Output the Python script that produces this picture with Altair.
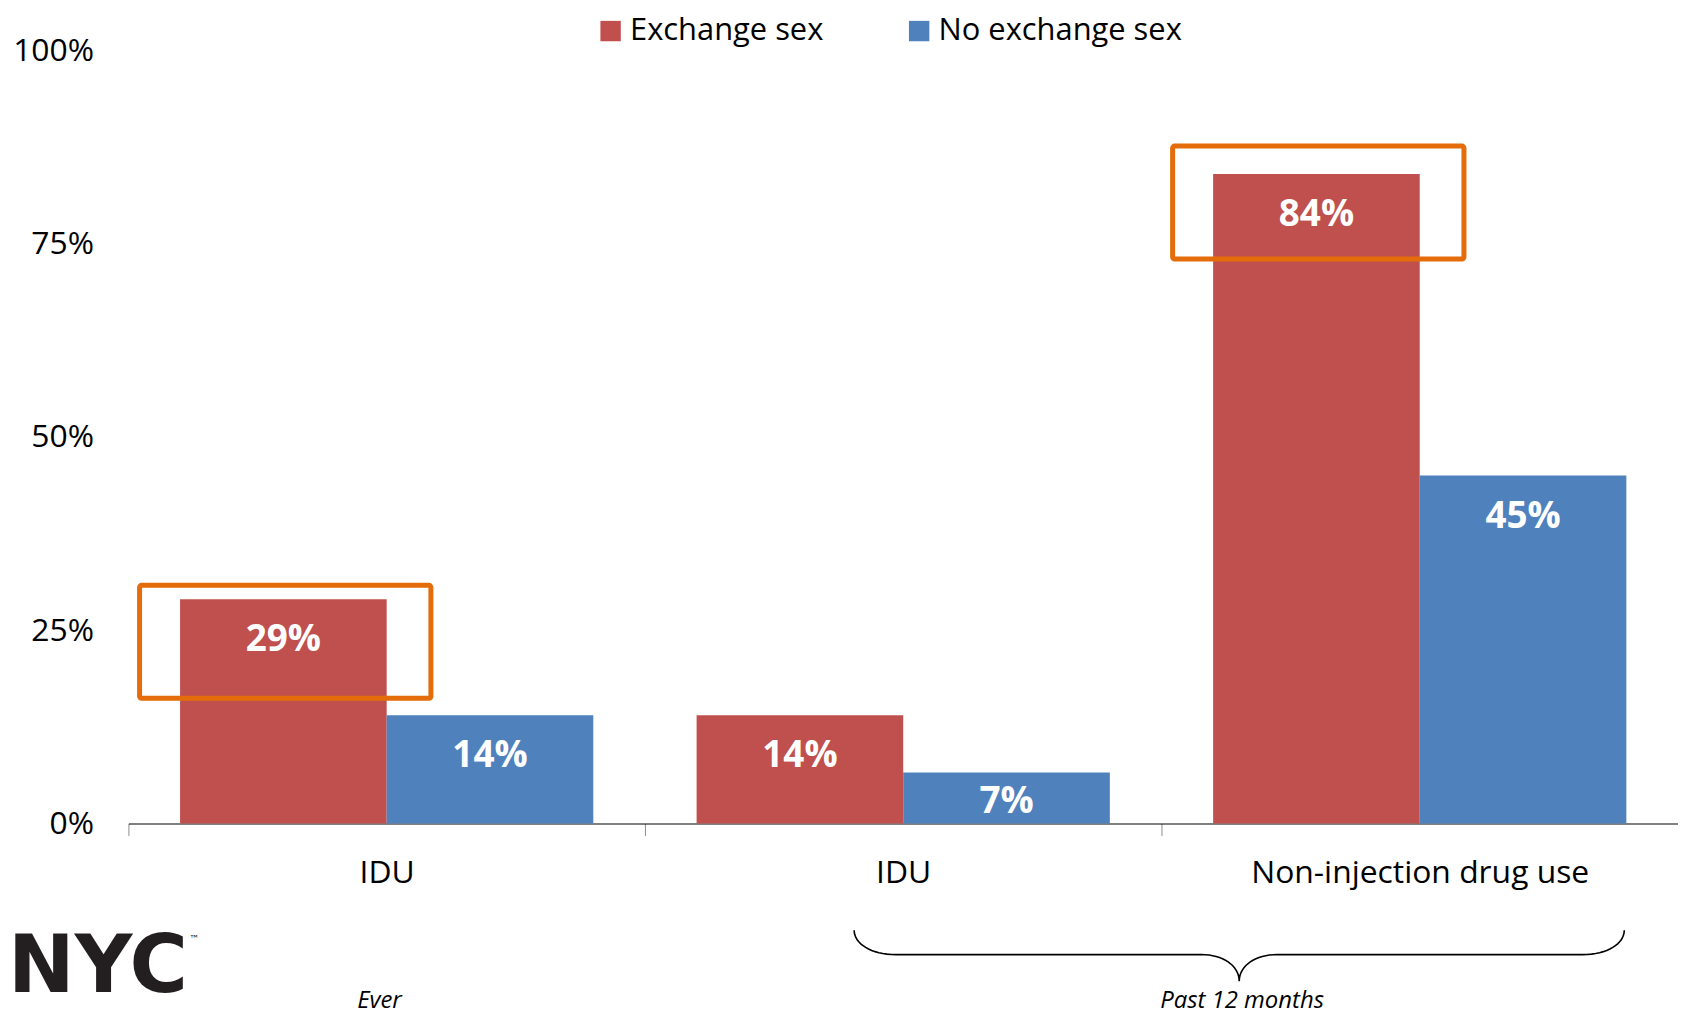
import altair as alt
import pandas as pd

# ---- data ----
categories = ["IDU", "IDU", "Non-injection drug use"]
periods = ["Ever", "Past 12 months", "Past 12 months"]
series_names = ["Exchange sex", "No exchange sex"]
exchange_sex = [29, 14, 84]
no_exchange_sex = [14, 6.6, 45]
highlighted = [True, False, True]
colors = ["#C0504D", "#4F81BD"]
y_ticks = [0, 25, 50, 75, 100]

# annotation positions (category units on x, percent on y)
box_top_pad = [1.8, 3.6]        # above the highlighted bar's value
box_bottom_pad = [12.8, 11.0]   # below the highlighted bar's value
period_labels = ["Ever", "Past 12 months"]
period_label_x = [0.486, 2.156]
period_label_y = [-23.0, -23.0]
brace_span = [1.405, 2.896]
brace_levels = [-13.8, -16.95, -20.4]
brace_round = [0.081, 0.073]
logo_text = ["NYC"]
logo_pos = [-0.233, -24.0]
tm_text = ["™"]
tm_pos = [0.118, -15.0]

# ---- tables ----
keys = [f"{i}|{c}" for i, c in enumerate(categories)]
rows = []
hi_n = 0
for i, k in enumerate(keys):
    for s, vals in zip(series_names, [exchange_sex, no_exchange_sex]):
        hi = bool(highlighted[i]) and s == series_names[0]
        row = {"key": k, "idx": i, "series": s, "value": vals[i], "highlight": hi,
               "tpad": 0.0, "bpad": 0.0}
        if hi:
            row["tpad"] = box_top_pad[hi_n]
            row["bpad"] = box_bottom_pad[hi_n]
            hi_n += 1
        rows.append(row)
df = pd.DataFrame(rows)


def cubic(p0, p1, p2, p3, n=16):
    pts = []
    for j in range(n + 1):
        t = j / n
        a, b, c, d = (1 - t) ** 3, 3 * (1 - t) ** 2 * t, 3 * (1 - t) * t ** 2, t ** 3
        pts.append((a * p0[0] + b * p1[0] + c * p2[0] + d * p3[0],
                    a * p0[1] + b * p1[1] + c * p2[1] + d * p3[1]))
    return pts


x0, x1 = brace_span
xm = (x0 + x1) / 2
yt, yl, yp = brace_levels
re, rm = brace_round
left_pts = cubic((x0, yt), (x0, yt + 0.55 * (yl - yt)), (x0 + 0.4 * re, yl), (x0 + re, yl))
mid_pts = cubic((xm - rm, yl), (xm - 0.45 * rm, yl), (xm, yl + 0.4 * (yp - yl)), (xm, yp))
half = left_pts + mid_pts
full = half + [(2 * xm - px, py) for (px, py) in reversed(half)]
brace_df = pd.DataFrame({"xq": [p[0] for p in full], "yq": [p[1] for p in full],
                         "o": list(range(len(full)))})
period_df = pd.DataFrame({"xq": period_label_x, "yq": period_label_y, "t": period_labels})
logo_df = pd.DataFrame({"xq": [logo_pos[0]], "yq": [logo_pos[1]], "t": logo_text})
tm_df = pd.DataFrame({"xq": [tm_pos[0]], "yq": [tm_pos[1]], "t": tm_text})

# ---- scales / axes ----
y_axis = alt.Axis(values=y_ticks, labelExpr="datum.value + '%'", grid=False, domain=False,
                  ticks=False, tickSize=0, labelFontSize=32, labelColor="#000000",
                  labelPadding=35, title=None)
y_scale = alt.Scale(domain=[0, 100], nice=False, zero=True)

x_band = alt.X("key:N", sort=keys,
               scale=alt.Scale(paddingInner=0, paddingOuter=0),
               axis=alt.Axis(title=None, labelExpr="split(datum.label, '|')[1]",
                             tickBand="extent", domainColor="#000000", domainWidth=1.2,
                             tickColor="#8c8c8c", tickSize=12, tickWidth=1,
                             labelFontSize=32, labelColor="#000000", labelPadding=22,
                             labelAngle=0, labelLimit=800))
x_off = alt.XOffset("series:N", sort=series_names,
                    scale=alt.Scale(paddingInner=0, paddingOuter=0.25))
xq_scale = alt.Scale(domain=[0, 3], nice=False, zero=False)

bars = alt.Chart(df).mark_bar().encode(
    x=x_band,
    xOffset=x_off,
    y=alt.Y("value:Q", scale=y_scale, axis=y_axis),
    color=alt.Color("series:N", sort=series_names,
                    scale=alt.Scale(domain=series_names, range=colors),
                    legend=alt.Legend(orient="none", legendX=469, legendY=-35,
                                      direction="horizontal", symbolType="square",
                                      symbolSize=420, symbolStrokeWidth=0,
                                      symbolOpacity=1, labelFontSize=31,
                                      labelColor="#000000", labelOffset=4,
                                      labelLimit=600, columnPadding=80, title=None)),
)

labels = alt.Chart(df).transform_calculate(
    ly="max(datum.value - 4.8, datum.value / 2)",
    txt="format(datum.value / 100, '.0%')",
).mark_text(color="white", fontWeight="bold", fontSize=37, baseline="middle", dy=4).encode(
    x=x_band,
    xOffset=x_off,
    y=alt.Y("ly:Q", scale=y_scale, axis=y_axis),
    text="txt:N",
)

boxes = alt.Chart(df).transform_filter("datum.highlight").transform_calculate(
    bx0="datum.idx + 0.3036 - 0.282",
    bx1="datum.idx + 0.3036 + 0.282",
    by0="datum.value + datum.tpad",
    by1="datum.value - datum.bpad",
).mark_rect(filled=False, stroke="#E46C0A", strokeWidth=5, cornerRadius=2).encode(
    x=alt.X("bx0:Q", scale=xq_scale, axis=None),
    x2="bx1:Q",
    y=alt.Y("by0:Q", scale=y_scale, axis=y_axis),
    y2="by1:Q",
)

brace = alt.Chart(brace_df).mark_line(color="#000000", strokeWidth=1.6).encode(
    x=alt.X("xq:Q", scale=xq_scale, axis=None),
    y=alt.Y("yq:Q", scale=y_scale, axis=y_axis),
    order="o:Q",
)

period_text = alt.Chart(period_df).mark_text(
    fontStyle="italic", fontSize=24, color="#000000", baseline="middle"
).encode(
    x=alt.X("xq:Q", scale=xq_scale, axis=None),
    y=alt.Y("yq:Q", scale=y_scale, axis=y_axis),
    text="t:N",
)

logo = alt.Chart(logo_df).mark_text(
    font="DejaVu Sans", fontWeight="bold", fontSize=80,
    color="#231f20", align="left", baseline="bottom"
).encode(
    x=alt.X("xq:Q", scale=xq_scale, axis=None),
    y=alt.Y("yq:Q", scale=y_scale, axis=y_axis),
    text="t:N",
)

tm = alt.Chart(tm_df).mark_text(
    font="DejaVu Sans", fontSize=10, color="#231f20", align="left", baseline="middle"
).encode(
    x=alt.X("xq:Q", scale=xq_scale, axis=None),
    y=alt.Y("yq:Q", scale=y_scale, axis=y_axis),
    text="t:N",
)

chart = alt.layer(
    alt.layer(bars, labels), boxes, brace, period_text, logo, tm
).resolve_scale(x="independent").properties(
    width=1557, height=777,
    autosize=alt.AutoSizeParams(type="none"),
    padding={"left": 121, "top": 40, "right": 0, "bottom": 193},
).configure(font="Open Sans").configure_view(strokeWidth=0)

chart.save("out.html", embed_options={"renderer": "svg", "actions": False})
